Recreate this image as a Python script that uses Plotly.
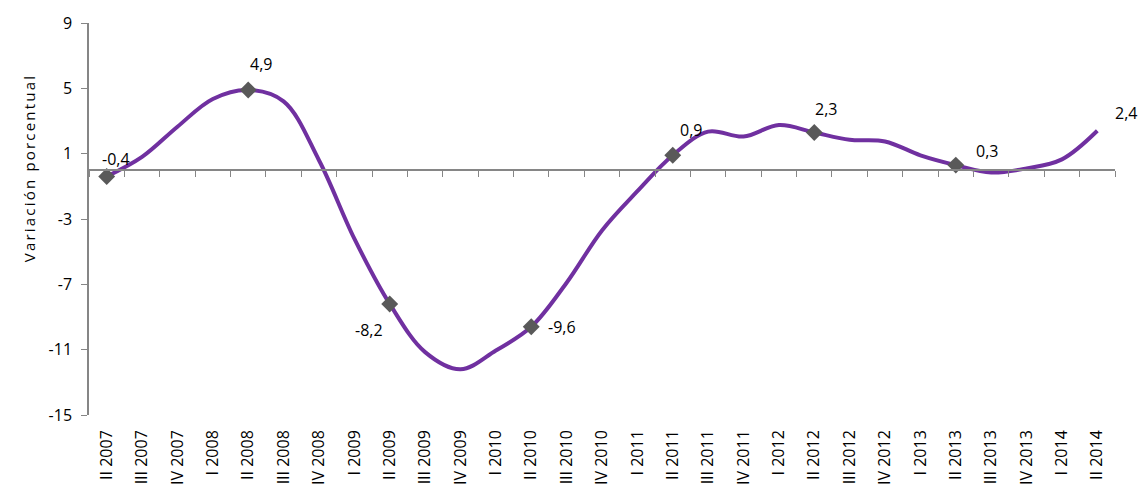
import plotly.graph_objects as go

quarters = ["II 2007", "III 2007", "IV 2007", "I 2008", "II 2008", "III 2008", "IV 2008",
            "I 2009", "II 2009", "III 2009", "IV 2009", "I 2010", "II 2010", "III 2010",
            "IV 2010", "I 2011", "II 2011", "III 2011", "IV 2011", "I 2012", "II 2012",
            "III 2012", "IV 2012", "I 2013", "II 2013", "III 2013", "IV 2013", "I 2014",
            "II 2014"]
values = [-0.4, 0.8, 2.65, 4.35, 4.9, 4.2, 0.6,
          -4.2, -8.2, -11.15, -12.2, -11.05, -9.6, -6.9,
          -3.7, -1.3, 0.9, 2.35, 2.05, 2.75, 2.3,
          1.85, 1.75, 0.9, 0.3, -0.15, 0.1, 0.65,
          2.4]

# labelled points: (category, value, label text)
label_cats = ["II 2007", "II 2008", "II 2009", "II 2010", "II 2011", "II 2012", "II 2013", "II 2014"]
label_vals = [-0.4, 4.9, -8.2, -9.6, 0.9, 2.3, 0.3, 2.4]
label_txt = ["-0,4", "4,9", "-8,2", "-9,6", "0,9", "2,3", "0,3", "2,4"]
marker_cats = label_cats[:-1]
marker_vals = label_vals[:-1]

y_ticks = [-15, -11, -7, -3, 1, 5, 9]
y_ticktext = ["-15", "-11", "-7", "-3", "1", "5", "9"]

FONT = "Open Sans"
AX = "#868686"

fig = go.Figure()
fig.add_trace(go.Scatter(
    x=quarters, y=values, mode="lines",
    line=dict(color="#7030A0", width=4, shape="spline", smoothing=1.0),
    hoverinfo="skip", showlegend=False))
fig.add_trace(go.Scatter(
    x=marker_cats, y=marker_vals, mode="markers",
    marker=dict(symbol="diamond", size=13, color="#595959"),
    showlegend=False))

# label offsets (pixels) for each labelled point
offs = [(9, 18), (13, 26), (-21, -26), (31, 0), (18, 25), (12, 23), (31, 14), (29, 18)]
for c, v, t, (dx, dy) in zip(label_cats, label_vals, label_txt, offs):
    fig.add_annotation(x=c, y=v, text=t, showarrow=False, xshift=dx, yshift=dy,
                       font=dict(family=FONT, size=16, color="#000000"))

fig.add_annotation(xref="paper", yref="paper", x=-0.070, y=0.63,
                   text='<span style="letter-spacing:2.2px">Variación porcentual</span>',
                   textangle=-90, showarrow=False,
                   font=dict(family=FONT, size=15, color="#000000"))

fig.update_layout(
    width=1142, height=497,
    margin=dict(l=89, r=27, t=23, b=82),
    paper_bgcolor="white", plot_bgcolor="white",
    showlegend=False,
    xaxis=dict(type="category", categoryorder="array", categoryarray=quarters,
               range=[-0.5, len(quarters) - 0.5],
               showline=False, ticks="", showgrid=False, zeroline=False,
               tickangle=-90, ticklabelstandoff=11,
               tickfont=dict(family=FONT, size=16, color="#000000")),
    xaxis2=dict(type="category", categoryorder="array", categoryarray=quarters,
                matches="x", overlaying="x", anchor="free", position=15 / 24,
                side="bottom", showline=True, linecolor=AX, linewidth=1.5,
                ticks="outside", tickson="boundaries", ticklen=6, tickcolor=AX,
                showticklabels=False, showgrid=False, zeroline=False),
    yaxis=dict(range=[-15, 9], tickvals=y_ticks, ticktext=y_ticktext,
               showgrid=False, zeroline=False,
               showline=True, linecolor=AX, linewidth=1.5, ticks="outside",
               ticklen=6, tickcolor=AX, ticklabelstandoff=6,
               tickfont=dict(family=FONT, size=16, color="#000000")),
)
# dummy trace to activate xaxis2
fig.add_trace(go.Scatter(x=[quarters[0]], y=[None], xaxis="x2", showlegend=False,
                         hoverinfo="skip"))

fig.write_html("out.html", config={"displayModeBar": False},
               post_script="document.body.style.margin='0';")
